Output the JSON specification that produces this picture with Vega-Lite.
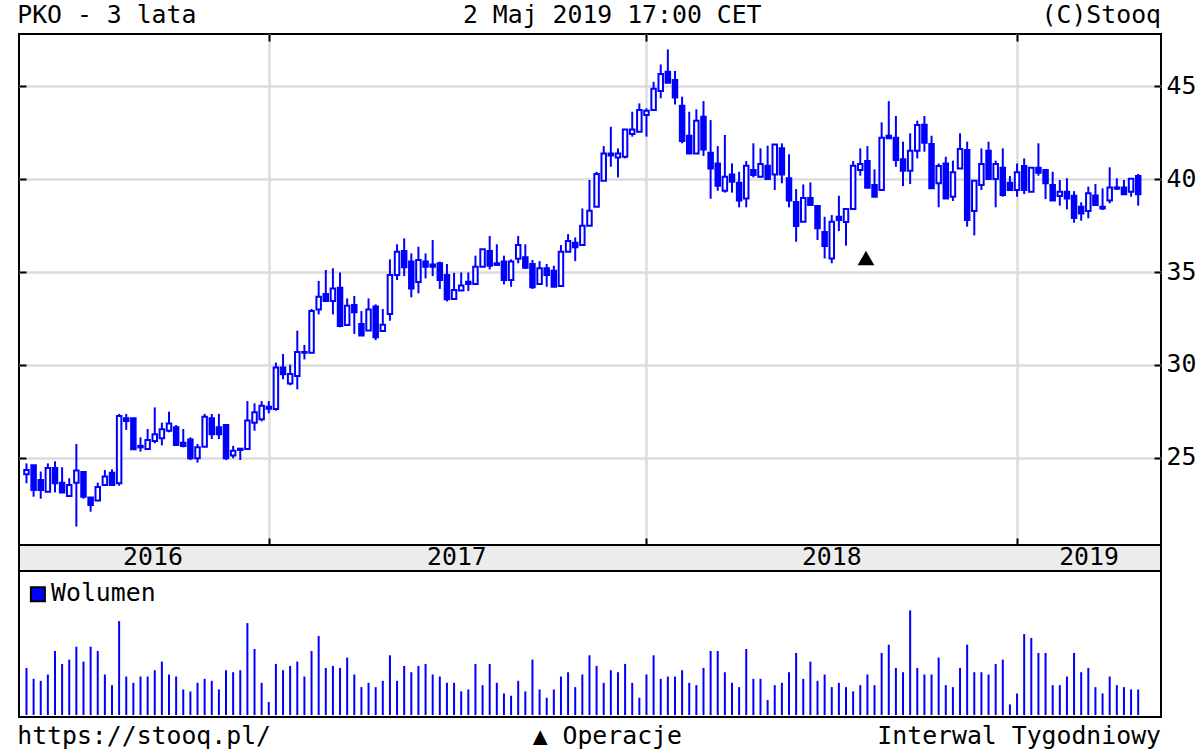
{
"$schema":"https://vega.github.io/schema/vega-lite/v6.json",
"background":"white",
"padding":{"left":17,"top":0,"right":0,"bottom":0},
"spacing":0,
"bounds":"flush",
"config":{"font":"DejaVu Sans Mono","view":{"stroke":"black","strokeWidth":2},
"text":{"font":"DejaVu Sans Mono","fontSize":24.8,"color":"black"},
"axis":{"labelFont":"DejaVu Sans Mono","labelFontSize":24.8,"labelColor":"black","title":null,"domain":false,"gridColor":"#dcdcdc","gridWidth":2.5,"gridOpacity":1,"tickColor":"black","tickWidth":2}},
"datasets":{
"candles":[
{"week":0,"open":24.12,"high":24.71,"low":23.64,"close":24.35,"volume":142},
{"week":1,"open":24.61,"high":24.61,"low":22.92,"close":23.28,"volume":109},
{"week":2,"open":23.82,"high":24.27,"low":22.81,"close":23.28,"volume":103},
{"week":3,"open":23.19,"high":24.71,"low":23.19,"close":24.46,"volume":122},
{"week":4,"open":24.46,"high":24.82,"low":23.15,"close":23.64,"volume":193},
{"week":5,"open":23.67,"high":24.5,"low":23.15,"close":23.15,"volume":154},
{"week":6,"open":22.96,"high":23.91,"low":22.96,"close":23.55,"volume":167},
{"week":7,"open":23.67,"high":25.75,"low":21.31,"close":24.32,"volume":206},
{"week":8,"open":24.25,"high":24.25,"low":22.81,"close":22.92,"volume":161},
{"week":9,"open":22.87,"high":22.87,"low":22.11,"close":22.47,"volume":206},
{"week":10,"open":22.71,"high":23.67,"low":22.71,"close":23.44,"volume":193},
{"week":11,"open":23.55,"high":24.35,"low":23.55,"close":24.0,"volume":122},
{"week":12,"open":24.21,"high":24.39,"low":23.55,"close":23.55,"volume":90},
{"week":13,"open":23.64,"high":27.37,"low":23.51,"close":27.26,"volume":283},
{"week":14,"open":27.13,"high":27.37,"low":26.51,"close":26.99,"volume":116},
{"week":15,"open":27.13,"high":27.13,"low":25.47,"close":25.47,"volume":97},
{"week":16,"open":25.65,"high":26.11,"low":25.34,"close":25.57,"volume":116},
{"week":17,"open":25.48,"high":26.56,"low":25.48,"close":25.97,"volume":116},
{"week":18,"open":25.91,"high":27.72,"low":25.79,"close":26.27,"volume":135},
{"week":19,"open":26.06,"high":26.9,"low":25.68,"close":26.54,"volume":161},
{"week":20,"open":26.47,"high":27.49,"low":26.38,"close":26.86,"volume":122},
{"week":21,"open":26.65,"high":26.77,"low":25.7,"close":25.7,"volume":116},
{"week":22,"open":25.82,"high":26.56,"low":25.57,"close":25.65,"volume":77},
{"week":23,"open":26.0,"high":26.11,"low":24.89,"close":24.98,"volume":71},
{"week":24,"open":24.98,"high":25.75,"low":24.75,"close":25.57,"volume":97},
{"week":25,"open":25.61,"high":27.37,"low":25.61,"close":27.22,"volume":109},
{"week":26,"open":27.13,"high":27.37,"low":26.02,"close":26.27,"volume":103},
{"week":27,"open":26.65,"high":27.37,"low":26.02,"close":26.27,"volume":77},
{"week":28,"open":26.77,"high":26.77,"low":24.89,"close":24.98,"volume":135},
{"week":29,"open":25.13,"high":25.65,"low":24.98,"close":25.39,"volume":129},
{"week":30,"open":25.5,"high":25.5,"low":24.89,"close":25.43,"volume":135},
{"week":31,"open":25.48,"high":28.06,"low":25.48,"close":27.01,"volume":277},
{"week":32,"open":26.9,"high":27.94,"low":26.47,"close":27.46,"volume":199},
{"week":33,"open":27.08,"high":28.06,"low":26.97,"close":27.81,"volume":97},
{"week":34,"open":27.76,"high":28.06,"low":27.4,"close":27.65,"volume":39},
{"week":35,"open":27.63,"high":30.13,"low":27.54,"close":29.87,"volume":154},
{"week":36,"open":29.87,"high":30.59,"low":29.23,"close":29.5,"volume":135},
{"week":37,"open":29.01,"high":30.02,"low":28.91,"close":29.52,"volume":148},
{"week":38,"open":29.41,"high":31.85,"low":28.69,"close":30.7,"volume":161},
{"week":39,"open":30.7,"high":31.08,"low":30.3,"close":30.66,"volume":116},
{"week":40,"open":30.66,"high":33.01,"low":30.66,"close":32.9,"volume":193},
{"week":41,"open":32.99,"high":34.52,"low":32.72,"close":33.67,"volume":238},
{"week":42,"open":33.82,"high":35.11,"low":33.44,"close":33.44,"volume":142},
{"week":43,"open":33.44,"high":35.2,"low":32.72,"close":34.12,"volume":148},
{"week":44,"open":34.16,"high":34.98,"low":32.03,"close":32.1,"volume":142},
{"week":45,"open":32.15,"high":33.58,"low":32.15,"close":33.19,"volume":173},
{"week":46,"open":33.23,"high":33.71,"low":31.67,"close":32.83,"volume":122},
{"week":47,"open":32.2,"high":32.9,"low":31.58,"close":31.58,"volume":84},
{"week":48,"open":31.85,"high":33.58,"low":31.85,"close":32.99,"volume":97},
{"week":49,"open":33.14,"high":33.26,"low":31.34,"close":31.49,"volume":84},
{"week":50,"open":31.83,"high":33.01,"low":31.83,"close":32.17,"volume":103},
{"week":51,"open":32.74,"high":35.68,"low":32.38,"close":34.84,"volume":180},
{"week":52,"open":34.84,"high":36.49,"low":34.57,"close":36.09,"volume":103},
{"week":53,"open":36.13,"high":36.81,"low":34.78,"close":35.25,"volume":148},
{"week":54,"open":35.56,"high":36.0,"low":33.64,"close":34.12,"volume":129},
{"week":55,"open":34.46,"high":36.36,"low":33.85,"close":35.65,"volume":148},
{"week":56,"open":35.56,"high":36.0,"low":34.66,"close":35.29,"volume":154},
{"week":57,"open":35.41,"high":36.72,"low":34.78,"close":35.29,"volume":122},
{"week":58,"open":35.47,"high":35.56,"low":34.09,"close":34.57,"volume":116},
{"week":59,"open":34.84,"high":35.43,"low":33.42,"close":33.53,"volume":97},
{"week":60,"open":33.55,"high":34.96,"low":33.55,"close":34.03,"volume":97},
{"week":61,"open":34.0,"high":34.98,"low":34.0,"close":34.27,"volume":71},
{"week":62,"open":34.48,"high":34.98,"low":33.98,"close":34.35,"volume":77},
{"week":63,"open":34.35,"high":35.88,"low":34.35,"close":35.29,"volume":154},
{"week":64,"open":35.29,"high":36.22,"low":35.29,"close":36.22,"volume":90},
{"week":65,"open":36.13,"high":36.94,"low":35.14,"close":35.34,"volume":154},
{"week":66,"open":35.47,"high":36.49,"low":35.38,"close":35.38,"volume":97},
{"week":67,"open":35.56,"high":35.88,"low":34.34,"close":34.57,"volume":65},
{"week":68,"open":34.57,"high":35.68,"low":34.21,"close":35.56,"volume":58},
{"week":69,"open":35.72,"high":36.94,"low":35.47,"close":36.45,"volume":103},
{"week":70,"open":35.79,"high":36.49,"low":35.16,"close":35.23,"volume":71},
{"week":71,"open":35.43,"high":35.65,"low":34.09,"close":34.18,"volume":167},
{"week":72,"open":34.35,"high":35.59,"low":34.35,"close":35.2,"volume":77},
{"week":73,"open":35.2,"high":35.43,"low":34.21,"close":34.84,"volume":52},
{"week":74,"open":35.07,"high":35.34,"low":34.21,"close":34.21,"volume":77},
{"week":75,"open":34.25,"high":36.45,"low":34.25,"close":36.09,"volume":116},
{"week":76,"open":36.09,"high":37.04,"low":36.09,"close":36.67,"volume":129},
{"week":77,"open":36.58,"high":36.86,"low":35.59,"close":36.33,"volume":84},
{"week":78,"open":36.45,"high":38.42,"low":36.45,"close":37.49,"volume":122},
{"week":79,"open":37.49,"high":39.95,"low":37.49,"close":38.3,"volume":180},
{"week":80,"open":38.51,"high":40.39,"low":38.51,"close":40.27,"volume":148},
{"week":81,"open":39.91,"high":41.77,"low":39.91,"close":41.38,"volume":97},
{"week":82,"open":41.38,"high":42.81,"low":40.66,"close":41.27,"volume":135},
{"week":83,"open":41.16,"high":41.65,"low":40.09,"close":41.38,"volume":129},
{"week":84,"open":41.2,"high":42.67,"low":41.11,"close":42.67,"volume":154},
{"week":85,"open":42.42,"high":43.62,"low":42.28,"close":42.67,"volume":97},
{"week":86,"open":42.54,"high":44.07,"low":42.54,"close":43.71,"volume":52},
{"week":87,"open":43.44,"high":43.8,"low":42.28,"close":43.67,"volume":122},
{"week":88,"open":43.71,"high":45.23,"low":43.71,"close":44.86,"volume":180},
{"week":89,"open":44.73,"high":46.16,"low":44.34,"close":45.65,"volume":109},
{"week":90,"open":45.77,"high":46.97,"low":45.18,"close":45.18,"volume":116},
{"week":91,"open":45.32,"high":45.81,"low":44.01,"close":44.39,"volume":116},
{"week":92,"open":43.94,"high":44.43,"low":41.92,"close":42.04,"volume":135},
{"week":93,"open":42.33,"high":43.62,"low":41.38,"close":41.38,"volume":97},
{"week":94,"open":41.38,"high":43.75,"low":41.38,"close":43.14,"volume":90},
{"week":95,"open":43.35,"high":44.19,"low":41.24,"close":41.59,"volume":142},
{"week":96,"open":41.42,"high":43.17,"low":38.94,"close":40.57,"volume":193},
{"week":97,"open":40.84,"high":41.77,"low":39.37,"close":39.64,"volume":193},
{"week":98,"open":39.37,"high":42.37,"low":39.27,"close":40.13,"volume":129},
{"week":99,"open":40.25,"high":40.84,"low":39.27,"close":39.86,"volume":97},
{"week":100,"open":39.8,"high":40.39,"low":38.48,"close":38.84,"volume":84},
{"week":101,"open":38.96,"high":40.97,"low":38.48,"close":40.72,"volume":199},
{"week":102,"open":40.48,"high":41.92,"low":40.09,"close":40.22,"volume":109},
{"week":103,"open":40.13,"high":41.65,"low":40.09,"close":40.81,"volume":109},
{"week":104,"open":40.72,"high":41.79,"low":40.0,"close":40.0,"volume":45},
{"week":105,"open":40.25,"high":41.86,"low":39.41,"close":41.86,"volume":90},
{"week":106,"open":41.65,"high":41.92,"low":39.77,"close":40.25,"volume":97},
{"week":107,"open":40.04,"high":41.33,"low":38.48,"close":38.84,"volume":129},
{"week":108,"open":38.76,"high":39.46,"low":36.63,"close":37.47,"volume":187},
{"week":109,"open":37.71,"high":39.71,"low":37.71,"close":38.98,"volume":109},
{"week":110,"open":38.98,"high":39.82,"low":38.6,"close":38.6,"volume":161},
{"week":111,"open":38.55,"high":38.55,"low":36.72,"close":37.35,"volume":103},
{"week":112,"open":37.15,"high":37.97,"low":35.73,"close":36.4,"volume":122},
{"week":113,"open":35.73,"high":38.06,"low":35.47,"close":37.71,"volume":84},
{"week":114,"open":37.97,"high":39.1,"low":37.2,"close":37.8,"volume":97},
{"week":115,"open":37.69,"high":38.39,"low":36.42,"close":38.39,"volume":84},
{"week":116,"open":38.39,"high":40.97,"low":38.39,"close":40.72,"volume":71},
{"week":117,"open":40.48,"high":41.65,"low":40.18,"close":40.81,"volume":90},
{"week":118,"open":40.97,"high":41.77,"low":39.53,"close":39.53,"volume":122},
{"week":119,"open":39.68,"high":40.52,"low":39.05,"close":39.05,"volume":90},
{"week":120,"open":39.41,"high":43.05,"low":39.41,"close":42.22,"volume":187},
{"week":121,"open":42.33,"high":44.19,"low":42.19,"close":42.19,"volume":212},
{"week":122,"open":42.22,"high":43.39,"low":40.66,"close":41.02,"volume":142},
{"week":123,"open":41.06,"high":42.01,"low":39.62,"close":40.45,"volume":129},
{"week":124,"open":40.45,"high":42.46,"low":39.73,"close":41.52,"volume":315},
{"week":125,"open":41.52,"high":43.14,"low":41.11,"close":42.9,"volume":142},
{"week":126,"open":42.92,"high":43.39,"low":41.47,"close":41.95,"volume":122},
{"week":127,"open":41.88,"high":42.33,"low":39.5,"close":39.5,"volume":122},
{"week":128,"open":39.77,"high":40.84,"low":38.48,"close":40.7,"volume":173},
{"week":129,"open":40.84,"high":41.2,"low":38.96,"close":38.96,"volume":90},
{"week":130,"open":39.05,"high":40.99,"low":38.82,"close":40.36,"volume":84},
{"week":131,"open":40.57,"high":42.46,"low":40.57,"close":41.61,"volume":142},
{"week":132,"open":41.56,"high":42.01,"low":37.44,"close":37.8,"volume":212},
{"week":133,"open":38.28,"high":39.91,"low":36.97,"close":39.91,"volume":129},
{"week":134,"open":39.68,"high":41.65,"low":39.41,"close":40.81,"volume":129},
{"week":135,"open":41.52,"high":42.01,"low":40.0,"close":40.0,"volume":122},
{"week":136,"open":40.0,"high":40.99,"low":38.48,"close":40.81,"volume":154},
{"week":137,"open":40.61,"high":41.65,"low":39.05,"close":39.14,"volume":167},
{"week":138,"open":39.8,"high":40.16,"low":39.41,"close":39.41,"volume":32},
{"week":139,"open":39.41,"high":40.84,"low":39.05,"close":40.36,"volume":65},
{"week":140,"open":40.7,"high":41.11,"low":39.19,"close":39.41,"volume":244},
{"week":141,"open":39.32,"high":40.61,"low":39.32,"close":40.61,"volume":232},
{"week":142,"open":40.61,"high":41.92,"low":40.18,"close":40.34,"volume":187},
{"week":143,"open":40.48,"high":40.52,"low":38.92,"close":39.77,"volume":187},
{"week":144,"open":39.68,"high":40.39,"low":38.84,"close":38.84,"volume":90},
{"week":145,"open":39.09,"high":39.95,"low":38.57,"close":39.32,"volume":90},
{"week":146,"open":39.32,"high":40.04,"low":38.37,"close":38.96,"volume":116},
{"week":147,"open":39.1,"high":39.35,"low":37.65,"close":37.9,"volume":187},
{"week":148,"open":38.51,"high":38.75,"low":37.76,"close":38.15,"volume":129},
{"week":149,"open":38.28,"high":39.59,"low":37.89,"close":39.23,"volume":142},
{"week":150,"open":39.12,"high":39.73,"low":38.6,"close":38.6,"volume":84},
{"week":151,"open":38.51,"high":39.5,"low":38.33,"close":38.42,"volume":65},
{"week":152,"open":38.84,"high":40.63,"low":38.69,"close":39.55,"volume":116},
{"week":153,"open":39.55,"high":40.04,"low":39.41,"close":39.48,"volume":90},
{"week":154,"open":39.55,"high":39.95,"low":39.18,"close":39.18,"volume":84},
{"week":155,"open":39.32,"high":40.02,"low":39.05,"close":40.02,"volume":77},
{"week":156,"open":40.16,"high":40.27,"low":38.57,"close":39.18,"volume":77}
],
"years":[{"week":17.75,"label":"2016"},{"week":60.4,"label":"2017"},{"week":113,"label":"2018"},{"week":149.1,"label":"2019"}]
},
"vconcat":[
{"width":1142,"height":34,"view":{"stroke":null},
"encoding":{"x":{"field":"week","type":"quantitative","scale":{"domain":[-1.05,159.2],"nice":false,"zero":false,"padding":0},"axis":null},"y":{"datum":0.54,"type":"quantitative","scale":{"domain":[0,1]},"axis":null},"text":{"field":"label"}},
"layer":[
{"data":{"values":[{"week":-1.3,"label":"PKO - 3 lata"}]},"mark":{"type":"text","align":"left"}},
{"data":{"values":[{"week":82.2,"label":"2 Maj 2019 17:00 CET"}]},"mark":{"type":"text","align":"center"}},
{"data":{"values":[{"week":159.2,"label":"(C)Stooq"}]},"mark":{"type":"text","align":"right"}}
]},
{"width":1142,"height":511,
"data":{"name":"candles"},
"resolve":{"axis":{"x":"independent","y":"independent"}},
"layer":[
{"mark":{"type":"rule","color":"#0000ff","strokeWidth":2},
"encoding":{
"x":{"field":"week","type":"quantitative","scale":{"domain":[-1.05,159.2],"nice":false,"zero":false,"padding":0},"axis":{"orient":"bottom","values":[34,87,139],"grid":true,"labels":false,"tickSize":-7}},
"y":{"field":"low","type":"quantitative","scale":{"domain":[20.32,47.8],"nice":false,"zero":false},"axis":{"orient":"left","values":[25,30,35,40,45],"grid":true,"labels":false,"tickSize":-7}},
"y2":{"field":"high"}}},
{"mark":{"type":"bar","size":4.5,"stroke":"#0000ff","strokeWidth":2},
"encoding":{
"x":{"field":"week","type":"quantitative","scale":{"domain":[-1.05,159.2],"nice":false,"zero":false,"padding":0},"axis":{"orient":"top","values":[34,87,139],"grid":false,"labels":false,"tickSize":-7}},
"y":{"field":"open","type":"quantitative","scale":{"domain":[20.32,47.8],"nice":false,"zero":false},"axis":{"orient":"right","values":[25,30,35,40,45],"grid":false,"tickSize":-7,"labelPadding":12}},
"y2":{"field":"close"},
"fill":{"condition":{"test":"datum.close > datum.open","value":"white"},"value":"#0000ff"}}},
{"data":{"values":[{"week":117.8,"price":35.75}]},
"mark":{"type":"point","shape":"triangle-up","filled":true,"color":"black","size":280,"opacity":1},
"encoding":{
"x":{"field":"week","type":"quantitative","scale":{"domain":[-1.05,159.2],"nice":false,"zero":false,"padding":0},"axis":null},
"y":{"field":"price","type":"quantitative","scale":{"domain":[20.32,47.8],"nice":false,"zero":false},"axis":null}}}
]},
{"width":1142,"height":26,"view":{"fill":"#ececec","stroke":"black","strokeWidth":2},
"data":{"name":"years"},
"mark":{"type":"text"},
"encoding":{
"x":{"field":"week","type":"quantitative","scale":{"domain":[-1.05,159.2],"nice":false,"zero":false,"padding":0},"axis":null},
"y":{"datum":0.5,"type":"quantitative","scale":{"domain":[0,1]},"axis":null},
"text":{"field":"label"}}},
{"width":1142,"height":146,
"layer":[
{"data":{"name":"candles"},
"mark":{"type":"bar","size":2,"color":"#0000ff"},
"encoding":{
"x":{"field":"week","type":"quantitative","scale":{"domain":[-1.05,159.2],"nice":false,"zero":false,"padding":0},"axis":{"orient":"top","values":[34,87,139],"grid":true,"labels":false,"tickSize":-7}},
"y":{"field":"volume","type":"quantitative","scale":{"domain":[-6,434],"nice":false,"zero":false},"axis":null},
"y2":{"datum":0}}},
{"data":{"values":[{"week":1.6,"volume":364}]},
"mark":{"type":"point","shape":"square","filled":true,"fill":"#0000ff","stroke":"black","strokeWidth":2,"size":196,"opacity":1},
"encoding":{
"x":{"field":"week","type":"quantitative","scale":{"domain":[-1.05,159.2],"nice":false,"zero":false,"padding":0},"axis":null},
"y":{"field":"volume","type":"quantitative","scale":{"domain":[-6,434],"nice":false,"zero":false},"axis":null}}},
{"data":{"values":[{"week":3.45,"volume":364,"label":"Wolumen"}]},
"mark":{"type":"text","align":"left"},
"encoding":{
"x":{"field":"week","type":"quantitative","scale":{"domain":[-1.05,159.2],"nice":false,"zero":false,"padding":0},"axis":null},
"y":{"field":"volume","type":"quantitative","scale":{"domain":[-6,434],"nice":false,"zero":false},"axis":null},
"text":{"field":"label"}}}
]},
{"width":1142,"height":33,"view":{"stroke":null},
"encoding":{"x":{"field":"week","type":"quantitative","scale":{"domain":[-1.05,159.2],"nice":false,"zero":false,"padding":0},"axis":null},"y":{"datum":0.39,"type":"quantitative","scale":{"domain":[0,1]},"axis":null},"text":{"field":"label"}},
"layer":[
{"data":{"values":[{"week":-1.3,"label":"https://stooq.pl/"}]},"mark":{"type":"text","align":"left"}},
{"data":{"values":[{"week":81.5,"label":"▲ Operacje"}]},"mark":{"type":"text","align":"center"}},
{"data":{"values":[{"week":159.2,"label":"Interwal Tygodniowy"}]},"mark":{"type":"text","align":"right"}}
]}
]
}
